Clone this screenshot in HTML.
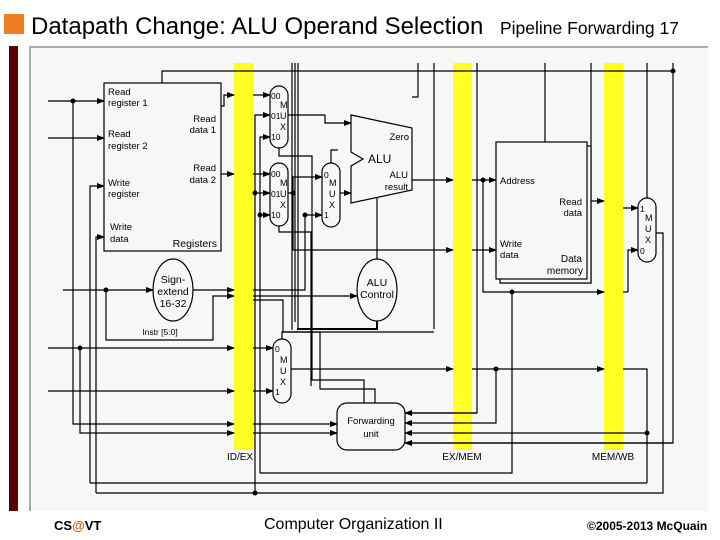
<!DOCTYPE html>
<html><head><meta charset="utf-8"><style>
body{margin:0;width:720px;height:540px;background:#fff;overflow:hidden;font-family:"Liberation Sans",sans-serif;position:relative}
.t{position:absolute;white-space:nowrap}
</style></head><body>
<div style="position:absolute;left:4px;top:14px;width:20px;height:20px;background:#f47c20"></div>
<div class="t" style="left:31px;top:13px;font-size:24px;color:#000">Datapath Change: ALU Operand Selection</div>
<div class="t" style="left:500px;top:18px;font-size:17.5px">Pipeline Forwarding 17</div>
<div style="position:absolute;left:9px;top:46px;width:9px;height:465px;background:#5a0000"></div>
<div class="t" style="left:54px;top:518px;font-size:13px;font-weight:bold">CS<span style="color:#c8641e">@</span>VT</div>
<div class="t" style="left:264px;top:516px;font-size:16px">Computer Organization II</div>
<div class="t" style="left:587px;top:519px;font-size:12px;font-weight:bold">©2005-2013 McQuain</div>
<svg width="720" height="540" style="position:absolute;left:0;top:0" font-family="Liberation Sans, sans-serif">
<defs><marker id="a" markerWidth="8" markerHeight="6" refX="7" refY="3" orient="auto" markerUnits="userSpaceOnUse"><path d="M0,0L8,3L0,6z" fill="#000"/></marker></defs>
<rect x="30" y="47" width="678" height="464" fill="#f7f7f7"/>
<path d="M30,511V47H708" stroke="#aaa" stroke-width="2" fill="none"/>
<g fill="#ffff22"><rect x="234" y="63" width="19" height="387"/><rect x="453" y="63" width="19" height="387"/><rect x="604" y="63" width="19" height="387"/></g>
<g font-size="10" text-anchor="middle"><text x="240" y="460">ID/EX</text><text x="462" y="460">EX/MEM</text><text x="613" y="460">MEM/WB</text></g>
<g stroke="#000" stroke-width="1.2" fill="none">
<rect x="104" y="83" width="117" height="168" fill="#f7f7f7"/>
<path d="M162,83V71H673"/>
<path d="M292,63V330M295,63V322M298,63V328M418,63V97H412M434,63V329M477,63V413H405M545,63V142M591,63V283H500M647,63V198M673,63V443H405" />
<path d="M48,101H104" marker-end="url(#a)"/><path d="M48,138H104" marker-end="url(#a)"/>
<path d="M73,101V424H234" marker-end="url(#a)"/>
<path d="M90,483V186H104" marker-end="url(#a)"/><path d="M96,493V237H104" marker-end="url(#a)"/>
<path d="M90,483H647"/><path d="M96,493H663V233H656"/>
<path d="M63,290H153" marker-end="url(#a)"/><path d="M106,290V340H213V296H234" marker-end="url(#a)"/>
<path d="M193,290H234" marker-end="url(#a)"/>
<path d="M48,348H234" marker-end="url(#a)"/><path d="M80,348V433H234" marker-end="url(#a)"/>
<path d="M48,391H234" marker-end="url(#a)"/>
<path d="M253,348H273" marker-end="url(#a)"/><path d="M253,391H273" marker-end="url(#a)"/>
<path d="M253,424H337" marker-end="url(#a)"/><path d="M253,433H337" marker-end="url(#a)"/>
<path d="M221,106H224V95H234" marker-end="url(#a)"/><path d="M221,174H234" marker-end="url(#a)"/>
<path d="M253,95H270" marker-end="url(#a)"/><path d="M253,174H270" marker-end="url(#a)"/>
<path d="M255,493V115H270" marker-end="url(#a)"/><path d="M255,193H270" marker-end="url(#a)"/>
<path d="M260,473V137H270" marker-end="url(#a)"/><path d="M260,215H270" marker-end="url(#a)"/>
<path d="M260,473H512V292"/>
<path d="M288,115H325V123H351" marker-end="url(#a)"/>
<path d="M288,193H293V250H453" marker-end="url(#a)"/><path d="M293,193V177H322" marker-end="url(#a)"/>
<path d="M253,290H305V215H322" marker-end="url(#a)"/>
<path d="M340,193H351" marker-end="url(#a)"/>
<path d="M331,163V150H338"/>
<path d="M279,148V156H312V380H364V403"/><path d="M279,226V232H311V386"/>
<path d="M253,296H357" marker-end="url(#a)"/>
<path d="M377,197V259"/><path d="M377,321V329H297" stroke-width="2"/>
<path d="M253,300H283V332H320V389H375V403"/>
<path d="M282,339V332H434"/>
<path d="M412,180H453" marker-end="url(#a)"/><path d="M472,180H496" marker-end="url(#a)"/>
<path d="M483,180V292H604" marker-end="url(#a)"/>
<path d="M472,250H496" marker-end="url(#a)"/>
<path d="M587,201H604" marker-end="url(#a)"/><path d="M623,208H638" marker-end="url(#a)"/>
<path d="M628,292V250H638" marker-end="url(#a)"/><path d="M623,292H628"/>
<path d="M291,369H453" marker-end="url(#a)"/><path d="M472,369H604" marker-end="url(#a)"/>
<path d="M623,369H647V483"/><path d="M496,369V423H405" marker-end="url(#a)"/>
<path d="M647,433H405" marker-end="url(#a)"/>
<path d="M477,413H405" marker-end="url(#a)"/><path d="M673,443H405" marker-end="url(#a)"/>
<rect x="500" y="146" width="91" height="137" fill="#f7f7f7"/>
<rect x="496" y="142" width="91" height="137" fill="#f7f7f7"/>
<rect x="270" y="86" width="18" height="62" rx="9" fill="#f7f7f7"/>
<rect x="270" y="163" width="18" height="63" rx="9" fill="#f7f7f7"/>
<rect x="322" y="163" width="18" height="64" rx="9" fill="#f7f7f7"/>
<rect x="273" y="339" width="18" height="64" rx="9" fill="#f7f7f7"/>
<rect x="638" y="198" width="18" height="64" rx="9" fill="#f7f7f7"/>
<path d="M351,115L412,128V190L351,203V166L363,159L351,152Z" fill="#f7f7f7"/>
<ellipse cx="377" cy="290" rx="20" ry="31" fill="#f7f7f7"/>
<ellipse cx="173" cy="290" rx="20" ry="31" fill="#f7f7f7"/>
<rect x="337" y="403" width="68" height="47" rx="10" fill="#f7f7f7"/>
</g>
<g fill="#000"><circle cx="673" cy="71" r="2.5"/><circle cx="73" cy="101" r="2.5"/><circle cx="106" cy="290" r="2.5"/><circle cx="80" cy="348" r="2.5"/><circle cx="255" cy="493" r="2.5"/><circle cx="483" cy="180" r="2.5"/><circle cx="512" cy="292" r="2.5"/><circle cx="496" cy="369" r="2.5"/><circle cx="647" cy="433" r="2.5"/><circle cx="293" cy="193" r="2.5"/><circle cx="255" cy="193" r="2.5"/><circle cx="260" cy="215" r="2.5"/><circle cx="305" cy="215" r="2.5"/></g>
<g font-size="9.5">
<text x="108" y="95">Read</text><text x="108" y="106">register 1</text>
<text x="108" y="137">Read</text><text x="108" y="149">register 2</text>
<text x="108" y="186">Write</text><text x="108" y="197">register</text>
<text x="110" y="230">Write</text><text x="110" y="242">data</text>
<text x="216" y="122" text-anchor="end">Read</text><text x="216" y="133" text-anchor="end">data 1</text>
<text x="216" y="171" text-anchor="end">Read</text><text x="216" y="183" text-anchor="end">data 2</text>
<text x="217" y="247" text-anchor="end" font-size="10.5">Registers</text>
<text x="173" y="283" text-anchor="middle" font-size="10.5">Sign-</text><text x="173" y="295" text-anchor="middle" font-size="10.5">extend</text><text x="173" y="307" text-anchor="middle" font-size="10.5">16-32</text>
<text x="160" y="335" text-anchor="middle" font-size="8.5">Instr [5:0]</text>
<text x="409" y="140" text-anchor="end">Zero</text>
<text x="368" y="163" font-size="12">ALU</text>
<text x="408" y="178" text-anchor="end">ALU</text><text x="408" y="190" text-anchor="end">result</text>
<text x="377" y="286" text-anchor="middle" font-size="10.5">ALU</text><text x="377" y="298" text-anchor="middle" font-size="10.5">Control</text>
<text x="371" y="424" text-anchor="middle">Forwarding</text><text x="371" y="437" text-anchor="middle">unit</text>
<text x="500" y="184">Address</text>
<text x="582" y="205" text-anchor="end">Read</text><text x="582" y="216" text-anchor="end">data</text>
<text x="500" y="247">Write</text><text x="500" y="258">data</text>
<text x="582" y="262" text-anchor="end" font-size="10">Data</text><text x="583" y="274" text-anchor="end" font-size="10">memory</text>
</g>
<g font-size="8.5">
<text x="271" y="99">00</text><text x="271" y="119">01</text><text x="271" y="140">10</text><text x="280" y="108" font-size="9">M</text><text x="280" y="119" font-size="9">U</text><text x="280" y="130" font-size="9">X</text>
<text x="271" y="177">00</text><text x="271" y="197">01</text><text x="271" y="218">10</text><text x="280" y="186" font-size="9">M</text><text x="280" y="197" font-size="9">U</text><text x="280" y="208" font-size="9">X</text>
<text x="324" y="178">0</text><text x="324" y="218">1</text><text x="329" y="186" font-size="9">M</text><text x="329" y="197" font-size="9">U</text><text x="329" y="208" font-size="9">X</text>
<text x="275" y="352">0</text><text x="275" y="395">1</text><text x="280" y="363" font-size="9">M</text><text x="280" y="374" font-size="9">U</text><text x="280" y="385" font-size="9">X</text>
<text x="640" y="212">1</text><text x="640" y="254">0</text><text x="645" y="221" font-size="9">M</text><text x="645" y="232" font-size="9">U</text><text x="645" y="243" font-size="9">X</text>
</g>
</svg>
</body></html>
